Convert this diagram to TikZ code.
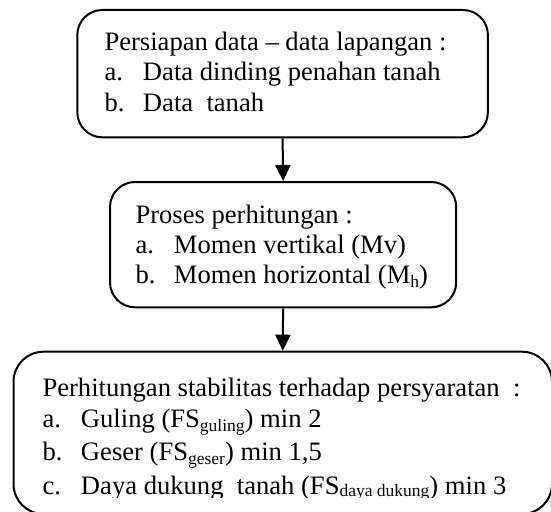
\documentclass[tikz,border=0pt]{standalone}
\usepackage{fontspec}
\setmainfont{Liberation Serif}
\usetikzlibrary{arrows.meta}
\newcommand\lsub[2][4]{\raisebox{-#1pt}{\fontsize{17.5}{17.5}\selectfont #2}}
\newcommand\itm[1]{\makebox[38.5pt][l]{#1}}
\begin{document}
\begin{tikzpicture}[x=1pt,y=-1pt,
  box/.style={draw, line width=2pt, rounded corners=25pt, inner sep=0pt},
  txt/.style={anchor=base west, inner sep=0pt, font=\fontsize{26.6}{30}\selectfont},
  arr/.style={line width=2pt, -{Triangle[width=15pt,length=16pt]}}]
\useasboundingbox (0,0) rectangle (551,511);
\clip (0,0) rectangle (551,511);
\node[box, minimum width=410.6pt, minimum height=127.3pt] (b1) at (282.6,73.65) {};
\node[box, minimum width=346.2pt, minimum height=125.3pt] (b2) at (283.1,244.65) {};
\node[box, rounded corners=30pt, minimum width=538.5pt, minimum height=162.3pt] (b3) at (282.75,432.85) {};
\node[txt] (t11) at (104.3,50.7) {Persiapan data – data lapangan :};
\node[txt] (t12) at (104.3,81) {\itm{a.}Data dinding penahan tanah};
\node[txt] (t13) at (104.3,111.3) {\itm{b.}Data\ \ tanah};
\node[txt] (t21) at (135.3,223) {Proses perhitungan :};
\node[txt] (t22) at (135.3,253) {\itm{a.}Momen vertikal (Mv)};
\node[txt] (t23) at (135.3,283) {\itm{b.}Momen horizontal (M\lsub{h})};
\node[txt] (t31) at (42.3,396) {Perhitungan stabilitas terhadap persyaratan\ \ :};
\node[txt] (t32) at (42.3,427.7) {\itm{a.}Guling (FS\lsub{guling}) min 2};
\node[txt] (t33) at (42.3,460.7) {\itm{b.}Geser (FS\lsub{geser}) min 1,5};
\begin{scope}
\clip (0,0) rectangle (551,497);
\node[txt] (t34) at (42.3,494.5) {\itm{c.}Daya dukung\ \ tanah (FS\lsub[2]{daya dukung}) min 3};
\end{scope}
\draw[arr] (b1.south) -- (b2.north);
\draw[arr] (b2.south) -- (b3.north);
\end{tikzpicture}
\end{document}
